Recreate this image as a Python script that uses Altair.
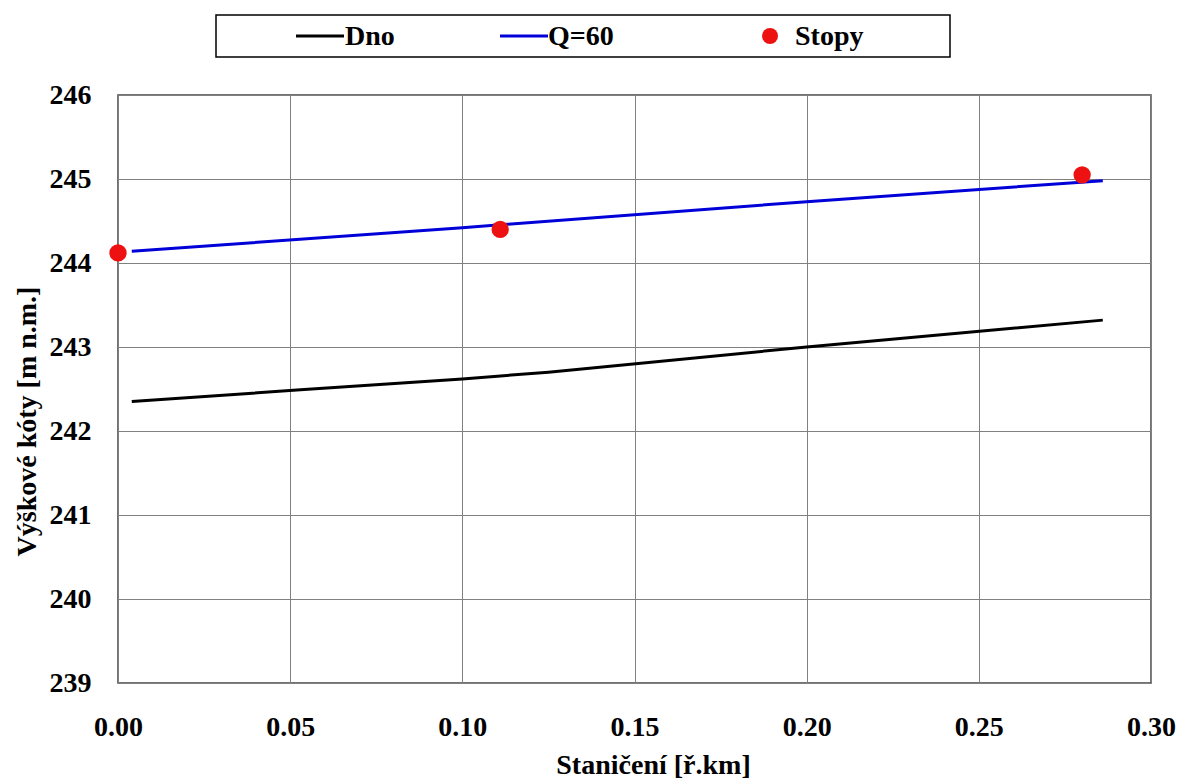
import altair as alt
import pandas as pd

# ---- data ----
dno_x = [0.004, 0.053, 0.100, 0.125, 0.200, 0.286]
dno_y = [242.35, 242.49, 242.62, 242.70, 243.00, 243.32]
q60_x = [0.004, 0.100, 0.200, 0.286]
q60_y = [244.14, 244.42, 244.73, 244.98]
stopy_x = [0.000, 0.111, 0.280]
stopy_y = [244.12, 244.40, 245.05]

series = ["Dno", "Q=60", "Stopy"]
colors = ["#000000", "#0000d8", "#ee1111"]
x_ticks = [0.0, 0.05, 0.10, 0.15, 0.20, 0.25, 0.30]
y_ticks = [239, 240, 241, 242, 243, 244, 245, 246]

FONT = "'Liberation Serif', 'Times New Roman', serif"

line_df = pd.concat([
    pd.DataFrame({"x": dno_x, "y": dno_y, "series": "Dno"}),
    pd.DataFrame({"x": q60_x, "y": q60_y, "series": "Q=60"}),
], ignore_index=True)
pt_df = pd.DataFrame({"x": stopy_x, "y": stopy_y, "series": "Stopy"})

color_scale = alt.Scale(domain=series, range=colors)

x_enc = alt.X(
    "x:Q",
    scale=alt.Scale(domain=[0, 0.3], nice=False),
    axis=alt.Axis(
        values=x_ticks, format=".2f", title="Staničení [ř.km]",
        titleX=535, titleY=90, titleBaseline="alphabetic", titleAnchor="middle",
        labelPadding=30, labelFlush=False, labelOverlap=False,
    ),
)
y_enc = alt.Y(
    "y:Q",
    scale=alt.Scale(domain=[239, 246], nice=False, zero=False),
    axis=alt.Axis(
        values=y_ticks, format="d", title="Výškové kóty [m n.m.]",
        titleX=-83, titleY=326, titleBaseline="alphabetic", titleAngle=270,
        titleAlign="center", labelPadding=27, labelFlush=False, labelOverlap=False,
    ),
)

lines = alt.Chart(line_df).mark_line(strokeWidth=3).encode(
    x=x_enc, y=y_enc,
    color=alt.Color("series:N", scale=color_scale, legend=None),
    detail="series:N",
)
points = alt.Chart(pt_df).mark_circle(size=300, opacity=1).encode(
    x="x:Q", y="y:Q",
    color=alt.Color("series:N", scale=color_scale, legend=None),
)

# ---- legend drawn as a box with entries ----
one = pd.DataFrame({"a": [0]})
OX, OY = 118, 95
ly = 36 - OY
box = alt.Chart(one).mark_rect(fill="white", stroke="black", strokeWidth=1.5).encode(
    x=alt.value(216 - OX), x2=alt.value(950 - OX),
    y=alt.value(15 - OY), y2=alt.value(57 - OY),
)
sym_start = [296, 500]
text_start = [345, 548, 795]
legend_layers = [box]
for i, name in enumerate(series):
    if name == "Stopy":
        legend_layers.append(
            alt.Chart(one).mark_circle(size=256, opacity=1, color=colors[i]).encode(
                x=alt.value(770 - OX), y=alt.value(ly))
        )
    else:
        legend_layers.append(
            alt.Chart(one).mark_rule(strokeWidth=3, color=colors[i]).encode(
                x=alt.value(sym_start[i] - OX), x2=alt.value(sym_start[i] + 48 - OX),
                y=alt.value(ly))
        )
    legend_layers.append(
        alt.Chart(one).mark_text(
            align="left", baseline="middle", font=FONT, fontSize=28,
            fontWeight="bold", color="black",
        ).encode(x=alt.value(text_start[i] - OX), y=alt.value(ly + 1), text=alt.value(name))
    )

chart = alt.layer(lines, points, *legend_layers).properties(
    width=1033, height=588,
    autosize=alt.AutoSizeParams(type="none"),
    padding={"left": 118, "top": 95, "right": 31, "bottom": 100},
    background="white",
).configure_view(
    stroke="#444444", strokeWidth=1.5,
).configure_axis(
    grid=True, gridColor="#808080", gridWidth=1, gridOpacity=1,
    domain=False, ticks=False, tickSize=0,
    labelFont=FONT, labelFontSize=28, labelFontWeight="bold", labelColor="black",
    titleFont=FONT, titleFontSize=28, titleFontWeight="bold", titleColor="black",
)

chart.save("out.html", embed_options={"renderer": "svg", "actions": False})
